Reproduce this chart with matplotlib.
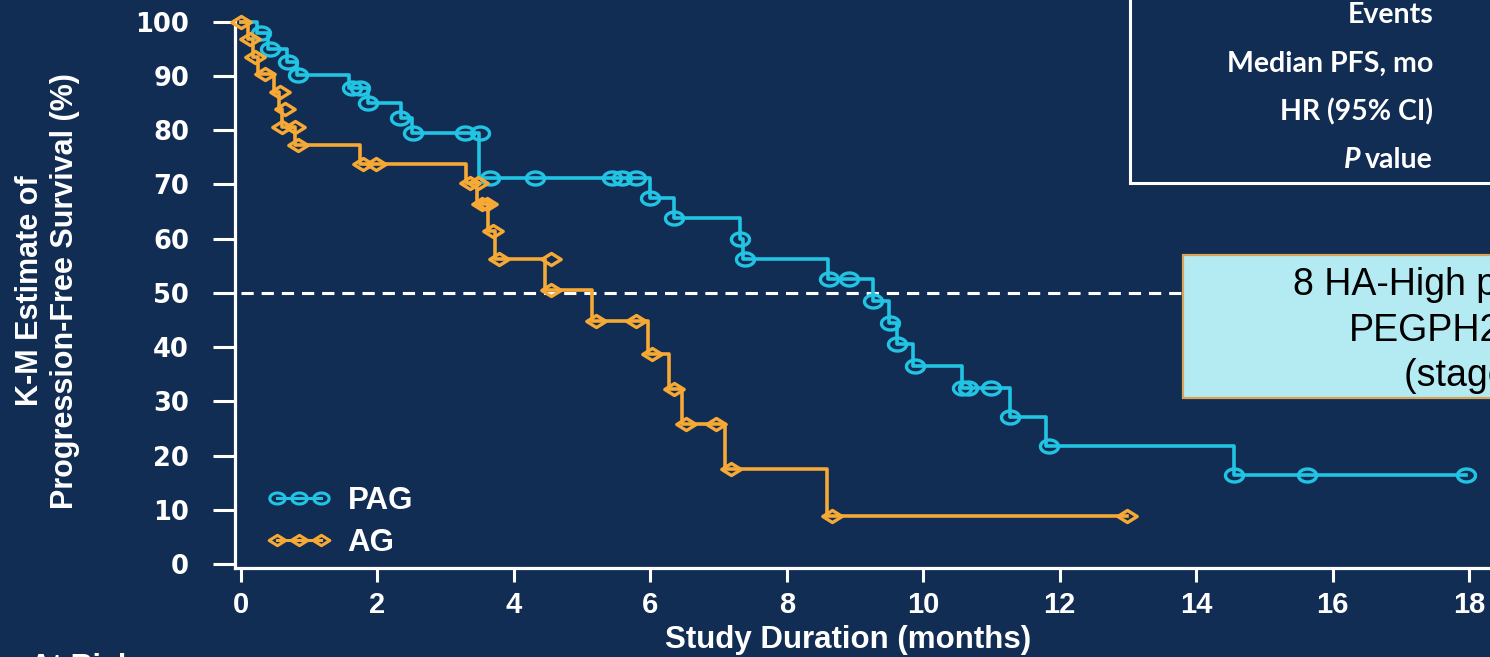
import numpy as np
import matplotlib
matplotlib.use("Agg")
import matplotlib.pyplot as plt
from matplotlib.path import Path
from matplotlib.patches import Rectangle
from matplotlib.lines import Line2D

plt.rcParams['font.family'] = ['Liberation Sans', 'DejaVu Sans']

# K-M curves: time of each drop (months) and PFS after it (%)
pag_t = [0, 0.23, 0.40, 0.68, 0.82, 1.58, 1.86, 2.35, 2.50, 3.49, 6.00, 6.34,
         7.31, 7.36, 8.61, 9.26, 9.50, 9.61, 9.85, 10.57, 11.27, 11.80, 14.56]
pag_s = [100, 97.8, 95.0, 92.5, 90.2, 87.8, 85.0, 82.3, 79.4, 71.1, 67.4, 63.7,
         59.9, 56.2, 52.5, 48.4, 44.4, 40.5, 36.5, 32.4, 27.1, 21.7, 16.4]
pag_end = 17.96
pag_mark_t = [0.30, 0.43, 0.69, 0.84, 1.62, 1.74, 1.86, 2.33, 2.52, 3.28, 3.50,
              3.65, 4.31, 5.44, 5.58, 5.79, 5.99, 6.35, 7.31, 7.39, 8.62, 8.91,
              9.26, 9.51, 9.61, 9.88, 10.57, 10.66, 10.99, 11.27, 11.84, 14.56,
              15.62, 17.96]
pag_mark_s = [97.8, 95.0, 92.5, 90.2, 87.8, 87.8, 85.0, 82.3, 79.4, 79.4, 79.4,
              71.1, 71.1, 71.1, 71.1, 71.1, 67.4, 63.7, 59.9, 56.2, 52.5, 52.5,
              48.4, 44.4, 40.5, 36.5, 32.4, 32.4, 32.4, 27.1, 21.7, 16.4,
              16.4, 16.4]

ag_t = [0, 0.10, 0.18, 0.25, 0.48, 0.55, 0.60, 0.79, 1.74, 3.30, 3.46, 3.62,
        3.72, 4.46, 5.14, 5.97, 6.28, 6.46, 7.10, 8.59]
ag_s = [100, 96.8, 93.5, 90.3, 87.1, 83.9, 80.6, 77.2, 73.8, 70.2, 66.3, 61.3,
        56.2, 50.5, 44.8, 38.7, 32.2, 25.8, 17.5, 8.8]
ag_end = 12.99
ag_mark_t = [0, 0.13, 0.20, 0.35, 0.57, 0.64, 0.60, 0.79, 0.84, 1.79, 1.98,
             3.36, 3.47, 3.53, 3.60, 3.69, 3.78, 4.54, 4.54, 5.21, 5.79, 6.03,
             6.35, 6.52, 6.96, 7.18, 8.66, 12.99]
ag_mark_s = [100, 96.8, 93.5, 90.3, 87.1, 83.9, 80.6, 80.6, 77.2, 73.8, 73.8,
             70.2, 70.2, 66.3, 66.3, 61.3, 56.2, 56.2, 50.5, 44.8, 44.8, 38.7,
             32.2, 25.8, 25.8, 17.5, 8.8, 8.8]

x_ticks = [0, 2, 4, 6, 8, 10, 12, 14, 16, 18]
y_ticks = [0, 10, 20, 30, 40, 50, 60, 70, 80, 90, 100]
legend_names = ["PAG", "AG"]
table_rows = ["Events", "Median PFS, mo", "HR (95% CI)"]
note_lines = ["8 HA-High patients", "PEGPH20", "(stage 1)"]

bg = "#122D54"
cyan = "#22C4E4"
orange = "#F6A934"

# squashed ring and squashed diamond like the SAS symbols
th = np.linspace(0, 2 * np.pi, 64)
ring = Path(np.column_stack([np.cos(th), 0.72 * np.sin(th)]))
diamond = Path([(-1, 0), (0, 0.62), (1, 0), (0, -0.62), (-1, 0)],
               [Path.MOVETO, Path.LINETO, Path.LINETO, Path.LINETO, Path.CLOSEPOLY])

W, H = 1490, 657
fig = plt.figure(figsize=(W / 100, H / 100), dpi=100)
fig.patch.set_facecolor(bg)
ax = fig.add_axes([235 / W, (H - 568) / H, (1500 - 235) / W, (568 - 21) / H])
ax.set_facecolor(bg)

px_per_mo = 68.22
px_per_pct = 5.43
ax.set_xlim(-6 / px_per_mo, (1500 - 241) / px_per_mo)
ax.set_ylim(-4 / px_per_pct, 100.1)

ax.hlines(50, 0, 13.8, colors="white", lw=2.2, linestyles=(0, (4, 2.6)), zorder=1)

ax.plot(pag_t + [pag_end], pag_s + [pag_s[-1]], drawstyle="steps-post",
        color=cyan, lw=2.6, clip_on=False, zorder=3)
ax.plot(pag_mark_t, pag_mark_s, ls="none", marker=ring, ms=13, mfc="none",
        mec=cyan, mew=2.4, clip_on=False, zorder=3)
ax.plot(ag_t + [ag_end], ag_s + [ag_s[-1]], drawstyle="steps-post",
        color=orange, lw=2.6, clip_on=False, zorder=4)
ax.plot(ag_mark_t, ag_mark_s, ls="none", marker=diamond, ms=14, mfc="none",
        mec=orange, mew=2.4, clip_on=False, zorder=4)

for side in ["top", "right"]:
    ax.spines[side].set_visible(False)
for side in ["left", "bottom"]:
    ax.spines[side].set_color("white")
    ax.spines[side].set_linewidth(2.3)

ax.set_xticks(x_ticks, labels=[str(v) for v in x_ticks], fontsize=21, fontweight="bold")
ax.set_yticks(y_ticks, labels=[str(v) for v in y_ticks], fontsize=18.5,
              fontweight="bold", family="DejaVu Sans")
ax.tick_params(axis="x", colors="white", length=10, width=2.2, pad=6.5)
ax.tick_params(axis="y", colors="white", length=16, width=2.2, pad=17)

fig.text(848 / W, (H - 640) / H, "Study Duration (months)", ha="center", va="center",
         fontsize=22.5, fontweight="bold", color="white")
fig.text(47.5 / W, (H - 291) / H, "K-M Estimate of\nProgression-Free Survival (%)",
         rotation=90, ha="center", va="center", fontsize=22, fontweight="bold",
         color="white", linespacing=1.2, multialignment="center")

handles = [Line2D([], [], color=cyan, lw=2.2, marker=ring, ms=11, mfc="none", mec=cyan, mew=2.2),
           Line2D([], [], color=orange, lw=2.2, marker=diamond, ms=12, mfc="none", mec=orange, mew=2.2)]
leg = ax.legend(handles, legend_names, loc="lower left", numpoints=3,
                bbox_to_anchor=(268 / W, (H - 558) / H), bbox_transform=fig.transFigure,
                frameon=False, borderpad=0, borderaxespad=0, handlelength=2.0,
                handletextpad=0.55, labelspacing=0.38, prop={"size": 22.5, "weight": "bold"})
for t in leg.get_texts():
    t.set_color("white")

# stats table frame (cut by the slide edge)
fig.add_artist(Rectangle((1130 / W, (H - 183) / H), 0.4, 0.4, transform=fig.transFigure,
                         facecolor=bg, edgecolor="white", lw=2.2, zorder=5))
for i, row in enumerate(table_rows):
    fig.text(1433 / W, (H - (15 + 48.5 * i)) / H, row, ha="right", va="center",
             fontsize=20.5, fontweight="bold", color="white", family="Lato", zorder=6)
val = fig.text(1433 / W, (H - (15 + 48.5 * 3)) / H, "value", ha="right", va="center",
               fontsize=20.5, fontweight="bold", color="white", family="Lato", zorder=6)
fig.canvas.draw()
vx0 = val.get_window_extent(fig.canvas.get_renderer()).x0
fig.text((vx0 - 5) / W, (H - (15 + 48.5 * 3)) / H, "P", ha="right", va="center",
         fontsize=20.5, fontweight="bold", style="italic", color="white",
         family="Lato", zorder=6)

# annotation box
fig.add_artist(Rectangle((1183 / W, (H - 398) / H), 0.3, (398 - 255) / H,
                         transform=fig.transFigure, facecolor="#B4EBF3",
                         edgecolor="#D9A45A", lw=1.6, zorder=5))
for x0, y0, line in zip([1293, 1349, 1404], [285, 331, 376], note_lines):
    fig.text(x0 / W, (H - y0) / H, line, ha="left", va="center", fontsize=27,
             color="black", zorder=6)

fig.text(30 / W, (H - 676) / H, "At Risk", ha="left", va="baseline", fontsize=22,
         fontweight="bold", color="white")

fig.savefig("out.png", dpi=100, facecolor=bg)
